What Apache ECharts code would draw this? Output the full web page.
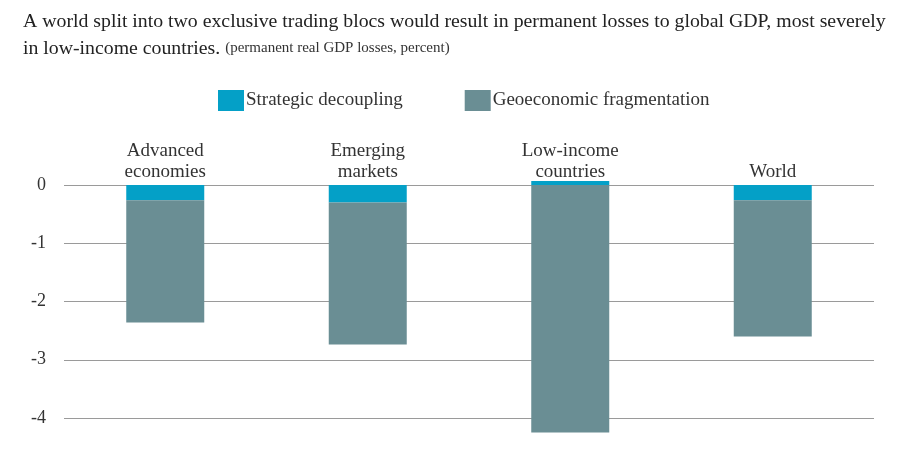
<!DOCTYPE html>
<html>
<head>
<meta charset="utf-8">
<script src="https://cdn.jsdelivr.net/npm/echarts@6/dist/echarts.min.js"></script>
<style>html,body{margin:0;padding:0;background:#fff}#c{width:911px;height:466px}</style>
</head>
<body>
<div id="c"></div>
<script>
const categories = ['Advanced\neconomies', 'Emerging\nmarkets', 'Low-income\ncountries', 'World'];
const strategicDecoupling = [-0.26, -0.30, 0.07, -0.26];
const geoeconomicFragmentation = [-2.10, -2.44, -4.25, -2.34];
const yTicks = [-4, -3, -2, -1, 0];

const FONT = '"Liberation Serif", "DejaVu Serif", serif';
const chart = echarts.init(document.getElementById('c'));
chart.setOption({
  animation: false,
  title: {
    text: 'A world split into two exclusive trading blocs would result in permanent losses to global GDP, most severely\nin low-income countries. {s|(permanent real GDP losses, percent)}',
    left: 18, top: 3,
    textStyle: {
      fontFamily: FONT, fontSize: 19.8, fontWeight: 'normal', color: '#222', lineHeight: 27,
      rich: { s: { fontFamily: FONT, fontSize: 15, color: '#333', lineHeight: 27 } }
    }
  },
  legend: {
    top: 85, left: 213,
    itemWidth: 26, itemHeight: 21, itemGap: 62,
    icon: 'rect',
    textStyle: { fontFamily: FONT, fontSize: 19, color: '#333', padding: [0, 0, 0, -3] },
    data: ['Strategic decoupling', 'Geoeconomic fragmentation']
  },
  grid: { left: 64, right: 37, top: 185, bottom: 48 },
  xAxis: {
    type: 'category', position: 'top', data: categories,
    axisLine: { show: false }, axisTick: { show: false },
    axisLabel: { fontFamily: FONT, fontSize: 19, color: '#333', lineHeight: 21, margin: 2 }
  },
  yAxis: {
    type: 'value', min: -4, max: 0, interval: 1,
    axisLine: { show: false }, axisTick: { show: false },
    axisLabel: { fontFamily: FONT, fontSize: 18, color: '#333', margin: 18,
      formatter: v => yTicks.includes(v) ? String(v) : '' },
    splitLine: { lineStyle: { color: '#9a9a9a', width: 1 } }
  },
  series: [
    { name: 'Strategic decoupling', type: 'bar', stack: 'a', data: strategicDecoupling,
      barWidth: 78, clip: false, itemStyle: { color: '#04a0c7' } },
    { name: 'Geoeconomic fragmentation', type: 'bar', stack: 'a', data: geoeconomicFragmentation,
      barWidth: 78, clip: false, itemStyle: { color: '#6a8e94' } }
  ]
});
</script>
</body>
</html>
